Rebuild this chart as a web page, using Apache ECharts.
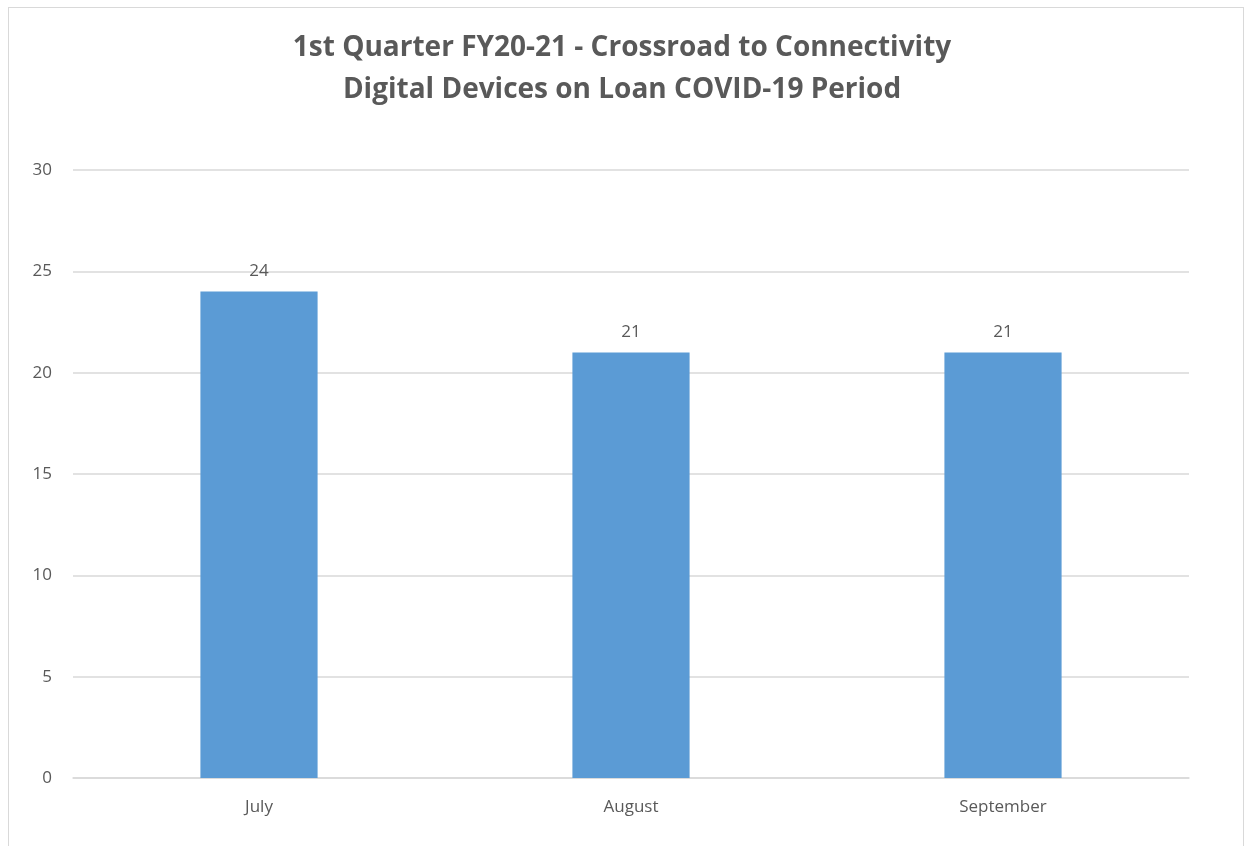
<!DOCTYPE html>
<html>
<head>
<meta charset="utf-8">
<script src="https://cdn.jsdelivr.net/npm/echarts@6/dist/echarts.min.js"></script>
<style>
    html, body { margin: 0; padding: 0; background: #fff; }
    #chart { width: 1244px; height: 846px; }
    .frame {
        position: absolute; left: 8px; top: 7px; width: 1234px; height: 860px;
        border: 1px solid #d9d9d9; pointer-events: none;
    }
</style>
</head>
<body>
<div id="chart"></div>
<div class="frame"></div>
<script>
const months = ['July', 'August', 'September']
const devices = [24, 21, 21]
const titleLines = ['1st Quarter FY20-21 - Crossroad to Connectivity', 'Digital Devices on Loan COVID-19 Period']

const textColor = '#595959'
const font = 'Open Sans'

const myChart = echarts.init(document.getElementById('chart'))
const option = {
    animation: false,
    textStyle: { fontFamily: font },
    title: {
        text: titleLines.join('\n'),
        left: 'center',
        top: 22,
        textStyle: {
            fontFamily: font,
            fontSize: 28,
            fontWeight: 'bold',
            color: textColor,
            lineHeight: 42,
        },
    },
    grid: {
        left: 73,
        right: 55,
        top: 170,
        bottom: 68,
    },
    xAxis: {
        type: 'category',
        data: months,
        axisTick: { show: false },
        axisLine: { lineStyle: { color: '#d9d9d9', width: 1.5 } },
        axisLabel: { color: textColor, fontSize: 17, margin: 21 },
    },
    yAxis: {
        type: 'value',
        min: 0,
        max: 30,
        interval: 5,
        axisLine: { show: false },
        axisTick: { show: false },
        axisLabel: { color: textColor, fontSize: 17, margin: 21 },
        splitLine: { lineStyle: { color: '#d9d9d9', width: 1.5 } },
    },
    series: [
        {
            type: 'bar',
            data: devices,
            barWidth: '31.5%',
            itemStyle: { color: '#5b9bd5' },
            label: {
                show: true,
                position: 'top',
                distance: 12,
                color: textColor,
                fontSize: 17,
            },
        },
    ],
}
myChart.setOption(option)
</script>
</body>
</html>
